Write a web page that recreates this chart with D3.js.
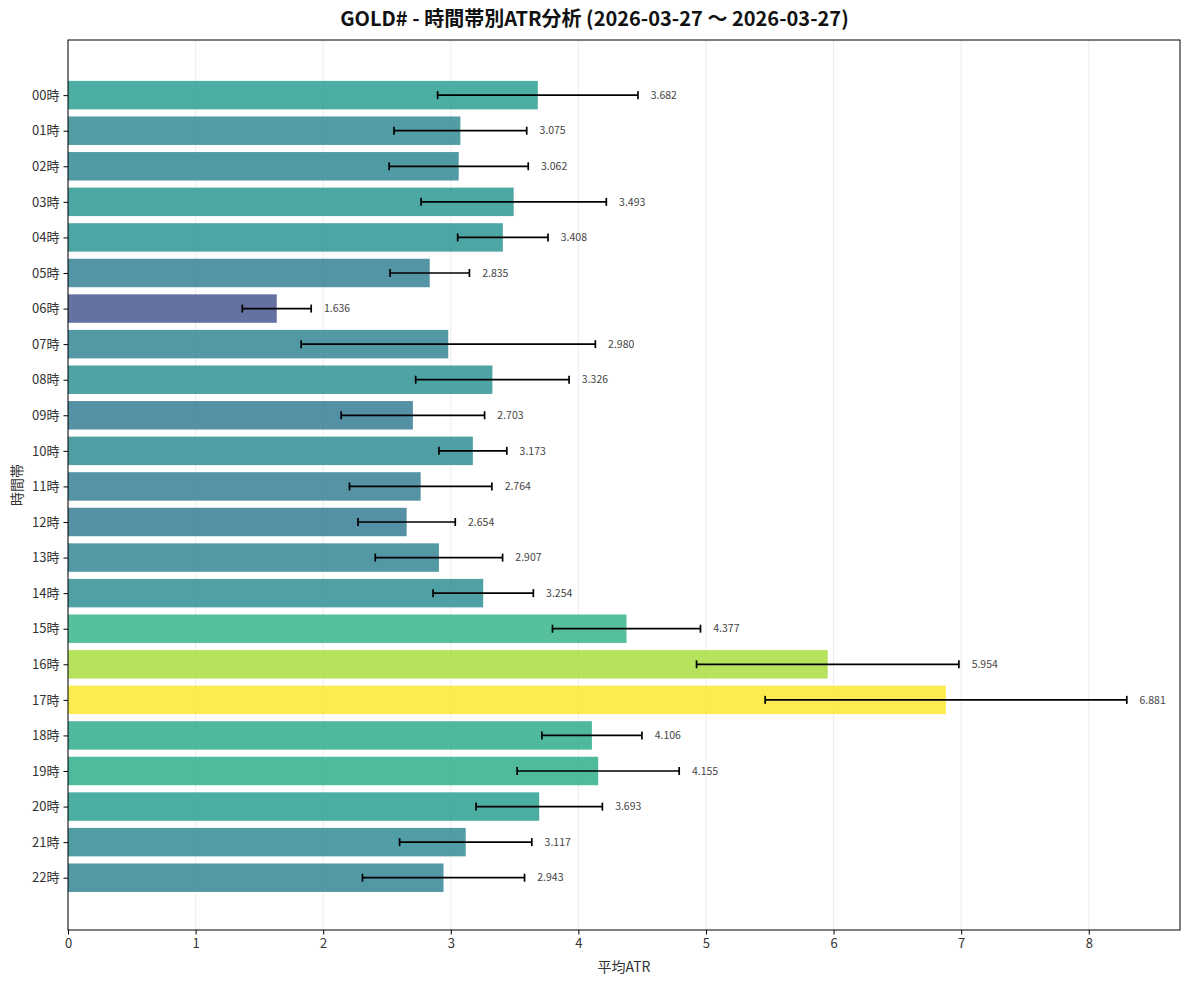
<!DOCTYPE html>
<html>
<head>
<meta charset="utf-8">
<script src="https://cdn.jsdelivr.net/npm/d3@7"></script>
<style>
  body { margin: 0; background: #fff; }
  text { font-family: "Noto Sans CJK JP", sans-serif; }
</style>
</head>
<body>
<div id="chart"></div>
<script>
// hours (categories)
var hours = ["00時","01時","02時","03時","04時","05時","06時","07時","08時","09時","10時","11時",
             "12時","13時","14時","15時","16時","17時","18時","19時","20時","21時","22時"];
// mean ATR per hour
var meanAtr = [3.682,3.075,3.062,3.493,3.408,2.835,1.636,2.980,3.326,2.703,3.173,2.764,
               2.654,2.907,3.254,4.377,5.954,6.881,4.106,4.155,3.693,3.117,2.943];
// std dev (error bars)
var stdAtr = [0.785,0.520,0.545,0.726,0.354,0.311,0.270,1.153,0.601,0.562,0.266,0.558,
              0.381,0.499,0.393,0.580,1.028,1.417,0.392,0.635,0.495,0.518,0.635];
var xTicks = [0,1,2,3,4,5,6,7,8];

var W = 1189, H = 985;
var margin = {top: 40, right: 9, bottom: 55, left: 68};
var width = W - margin.left - margin.right;
var height = H - margin.top - margin.bottom;

var svg = d3.select("#chart").append("svg")
    .attr("width", W).attr("height", H);

var g = svg.append("g")
    .attr("transform", "translate(" + margin.left + "," + margin.top + ")");

var x = d3.scaleLinear().domain([0, 8.715]).range([0, width]);
// matplotlib-like inverted y
var y = d3.scaleLinear().domain([-1.55, 23.47]).range([0, height]);
var barH = y(0.8) - y(0);

var maxV = d3.max(meanAtr);

// grid
g.selectAll(".grid").data(xTicks).enter().append("line")
    .attr("x1", function(d){ return x(d); }).attr("x2", function(d){ return x(d); })
    .attr("y1", 0).attr("y2", height)
    .attr("stroke", "#b0b0b0").attr("stroke-opacity", 0.3).attr("stroke-width", 0.8);

// bars
g.selectAll(".bar").data(meanAtr).enter().append("rect")
    .attr("x", x(0))
    .attr("y", function(d, i){ return y(i) - barH / 2; })
    .attr("width", function(d){ return x(d) - x(0); })
    .attr("height", barH)
    .attr("fill", function(d){ return d3.interpolateViridis(d / maxV); })
    .attr("fill-opacity", 0.8);

// error bars
var eb = g.selectAll(".err").data(meanAtr).enter().append("g")
    .attr("stroke", "#000").attr("stroke-width", 1.7);
eb.append("line")
    .attr("x1", function(d, i){ return x(d - stdAtr[i]); })
    .attr("x2", function(d, i){ return x(d + stdAtr[i]); })
    .attr("y1", function(d, i){ return y(i); }).attr("y2", function(d, i){ return y(i); });
eb.append("line")
    .attr("x1", function(d, i){ return x(d - stdAtr[i]); })
    .attr("x2", function(d, i){ return x(d - stdAtr[i]); })
    .attr("y1", function(d, i){ return y(i) - 4; }).attr("y2", function(d, i){ return y(i) + 4; });
eb.append("line")
    .attr("x1", function(d, i){ return x(d + stdAtr[i]); })
    .attr("x2", function(d, i){ return x(d + stdAtr[i]); })
    .attr("y1", function(d, i){ return y(i) - 4; }).attr("y2", function(d, i){ return y(i) + 4; });

// value labels
g.selectAll(".val").data(meanAtr).enter().append("text")
    .attr("x", function(d, i){ return x(d + stdAtr[i] + 0.1); })
    .attr("y", function(d, i){ return y(i); })
    .attr("dy", "0.35em")
    .attr("font-size", "10.5px")
    .attr("fill", "#444")
    .text(function(d){ return d.toFixed(3); });

// frame
g.append("rect").attr("width", width).attr("height", height)
    .attr("fill", "none").attr("stroke", "#000").attr("stroke-width", 1);

// x axis
var xAxis = g.append("g").attr("transform", "translate(0," + height + ")")
    .call(d3.axisBottom(x).tickValues(xTicks).tickFormat(d3.format("d")).tickSize(4.5).tickPadding(4));
xAxis.select(".domain").remove();
xAxis.selectAll("text").attr("font-size", "13px").attr("fill", "#333");

// y axis
var yAxis = g.append("g")
    .call(d3.axisLeft(y).tickValues(d3.range(hours.length))
        .tickFormat(function(i){ return hours[i]; }).tickSize(4.5).tickPadding(4));
yAxis.select(".domain").remove();
yAxis.selectAll("text").attr("font-size", "13px").attr("fill", "#333");

// axis titles
svg.append("text")
    .attr("x", margin.left + width / 2).attr("y", 972)
    .attr("text-anchor", "middle").attr("font-size", "14px").attr("fill", "#333")
    .text("平均ATR");
svg.append("text")
    .attr("transform", "translate(22," + (margin.top + height / 2) + ") rotate(-90)")
    .attr("text-anchor", "middle").attr("font-size", "14px").attr("fill", "#333")
    .text("時間帯");

// title
svg.append("text")
    .attr("x", W / 2).attr("y", 26)
    .attr("text-anchor", "middle").attr("font-size", "20px").attr("font-weight", "bold")
    .attr("fill", "#111")
    .text("GOLD# - 時間帯別ATR分析 (2026-03-27 ～ 2026-03-27)");
</script>
</body>
</html>
